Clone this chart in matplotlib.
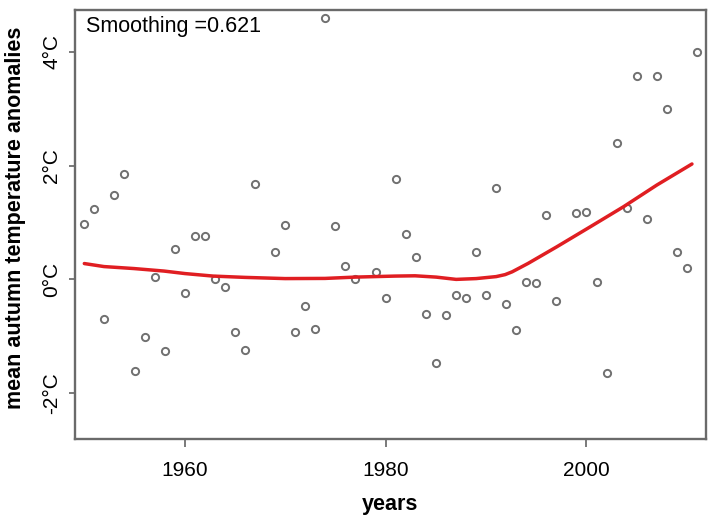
import numpy as np
import matplotlib
matplotlib.use("Agg")
import matplotlib.pyplot as plt

plt.rcParams['font.family'] = ['Liberation Sans', 'DejaVu Sans']

# Annual mean autumn temperature anomalies (°C); NaN = no point drawn
years = np.arange(1950, 2012)
anomalies = [
    0.97, 1.23, -0.70, 1.48, 1.86, -1.61, -1.01, 0.05, -1.26, 0.53,
    -0.24, 0.76, 0.76, 0.01, -0.14, -0.92, -1.24, 1.68, np.nan, 0.49,
    0.96, -0.92, -0.46, -0.87, 4.59, 0.94, 0.24, 0.01, np.nan, 0.14,
    -0.33, 1.76, 0.80, 0.39, -0.61, -1.47, -0.63, -0.28, -0.32, 0.49,
    -0.28, 1.61, -0.43, -0.89, -0.05, -0.07, 1.13, -0.38, np.nan, 1.16,
    1.18, -0.05, -1.65, 2.40, 1.25, 3.58, 1.07, 3.58, 2.99, 0.49,
    0.20, 4.00,
]

# Smoothed curve
smooth_years = [1950.0, 1951.96, 1954.95, 1957.94, 1960.03, 1962.82, 1966.00,
                1969.99, 1973.97, 1976.96, 1980.94, 1982.93, 1985.03, 1987.02,
                1989.01, 1991.01, 1991.90, 1992.60, 1994.19, 1997.05, 2000.38,
                2003.69, 2007.01, 2010.50]
smooth_vals = [0.28, 0.227, 0.192, 0.148, 0.104, 0.060, 0.037,
               0.016, 0.019, 0.042, 0.060, 0.065, 0.042, 0.002,
               0.016, 0.051, 0.086, 0.135, 0.283, 0.575, 0.926,
               1.278, 1.659, 2.028]

ytick_vals = [-2, 0, 2, 4]
ytick_labels = ['-2°C', '0°C', '2°C', '4°C']
xtick_vals = [1960, 1980, 2000]
xtick_labels = ['1960', '1980', '2000']
annotation = 'Smoothing =0.621'

fig = plt.figure(figsize=(7.12, 5.17), dpi=100)
ax = fig.add_axes([0.1053, 0.1509, 0.8863, 0.8307])

ax.plot(years, anomalies, linestyle='none', marker='o', markersize=5.2,
        markerfacecolor='none', markeredgecolor='#707070', markeredgewidth=1.4)
ax.plot(smooth_years, smooth_vals, color='#e01e22', linewidth=2.5,
        solid_capstyle='round')

ax.set_xlim(1949.07, 2011.9)
ax.set_ylim(-2.80, 4.74)

ax.set_xticks(xtick_vals)
ax.set_xticklabels(xtick_labels, fontsize=15)
ax.set_yticks(ytick_vals)
ax.set_yticklabels(ytick_labels, fontsize=15, rotation=90, va='center')

ax.tick_params(axis='x', direction='out', length=6, width=1.3, color='#707070', pad=10)
ax.tick_params(axis='y', direction='out', length=4, width=1.3, color='#707070', pad=6)

for s in ax.spines.values():
    s.set_color('#6a6a6a')
    s.set_linewidth(1.7)

ax.set_xlabel('years', fontsize=15.5, fontweight='bold', labelpad=10)
ax.set_ylabel('mean autumn temperature anomalies', fontsize=15.5,
              fontweight='bold')
ax.yaxis.set_label_coords(-0.078, 0.515)

ax.text(0.018, 0.985, annotation, transform=ax.transAxes, fontsize=15.5,
        ha='left', va='top')

fig.savefig('out.png', dpi=100)
